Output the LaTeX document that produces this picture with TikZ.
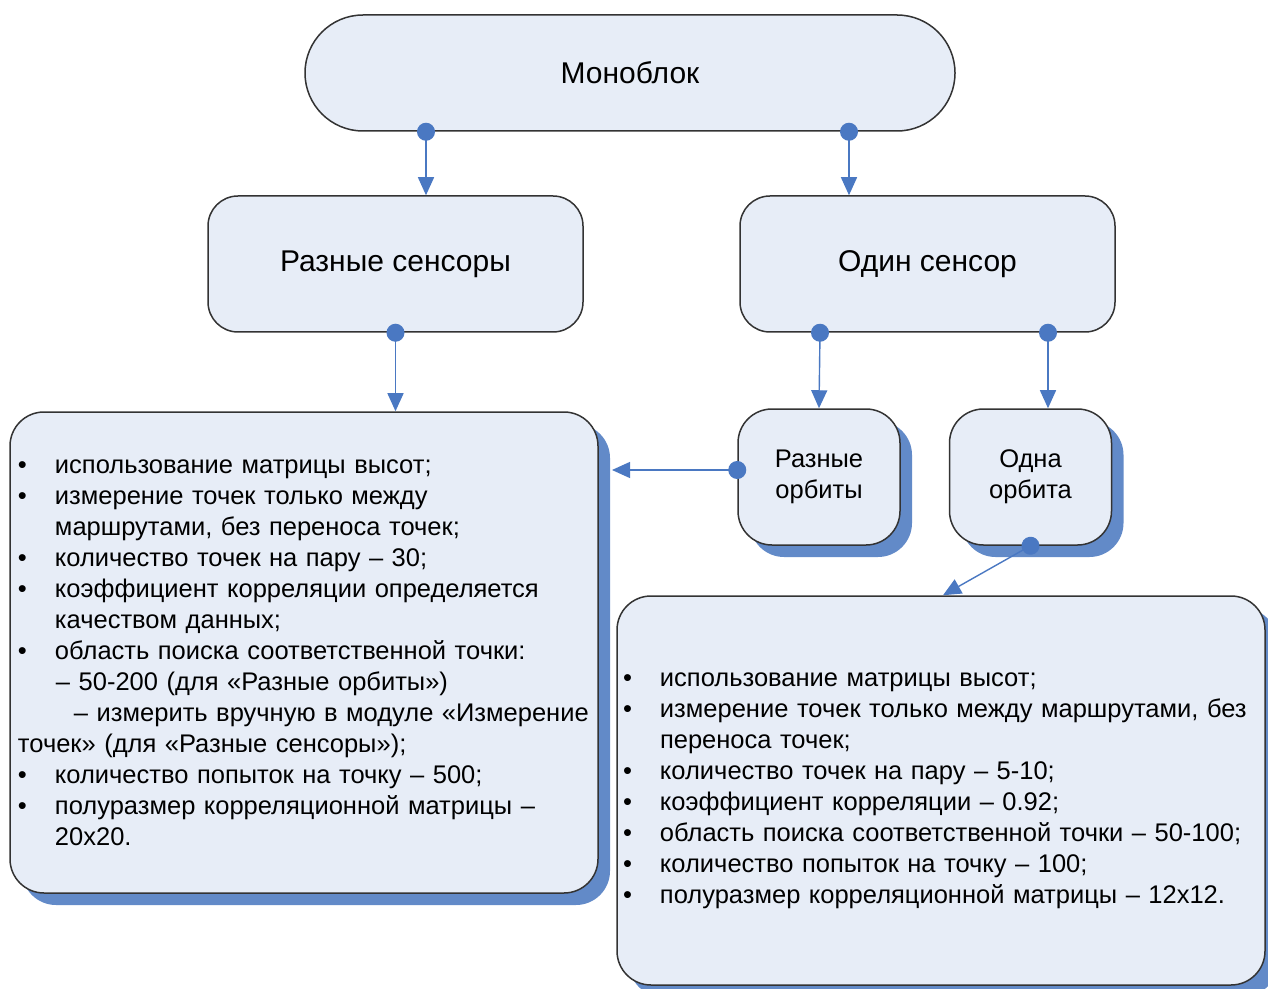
\documentclass[tikz,border=0pt]{standalone}
\usepackage{fontspec}
\setmainfont{Liberation Sans}
\usetikzlibrary{arrows.meta,calc,shadows}
\definecolor{boxfill}{HTML}{E7EDF7}
\definecolor{edge}{HTML}{333333}
\definecolor{linkblue}{HTML}{4A78C2}
\definecolor{shade}{HTML}{628AC8}
\newcommand\bul{\makebox[18.5pt][l]{\textbullet}}
\newcommand\indt{\hspace*{18.5pt}}

\tikzset{
  block/.style={draw=edge,line width=.75pt,fill=boxfill,rounded corners=15pt,
    align=center,font=\fontsize{15}{18}\selectfont},
  body/.style={font=\fontsize{12.75}{15.5}\selectfont},
  shadowed/.style={drop shadow={shadow xshift=6pt,shadow yshift=-6pt,fill=shade,opacity=1}},
  link/.style={linkblue,line width=.7pt,
    {Circle[length=9pt]}-{Triangle[length=9pt,width=8pt]},shorten <=-4.5pt},
}

\begin{document}
\begin{tikzpicture}[x=.5pt,y=-.5pt]
  \useasboundingbox (0,0) rectangle (1268,989);

  % top of the tree
  \node[block,rounded corners=29pt,minimum width=325pt,minimum height=58pt] (mono) at (630,73) {Моноблок};
  \node[block,minimum width=187.5pt,minimum height=68pt] (sens1) at (395.5,264) {Разные сенсоры};
  \node[block,minimum width=187.5pt,minimum height=68pt] (sens2) at (927.5,264) {Один сенсор};

  % orbit variants
  \node[block,body,shadowed,rounded corners=17pt,minimum width=81pt,minimum height=68pt] (orb1) at (819,477) {Разные\\орбиты};
  \node[block,body,shadowed,rounded corners=17pt,minimum width=81pt,minimum height=68pt] (orb2) at (1030.5,477) {Одна\\орбита};

  % parameter lists
  \node[block,body,shadowed,rounded corners=17pt,align=left,text width=286pt,inner xsep=4pt,
    minimum height=240.5pt] (lbox) at (304,652.5) {%
    \bul использование матрицы высот;\\
    \bul измерение точек только между\\
    \indt маршрутами, без переноса точек;\\
    \bul количество точек на пару – 30;\\
    \bul коэффициент корреляции определяется\\
    \indt качеством данных;\\
    \bul область поиска соответственной точки:\\
    \hspace*{19pt}– 50-200 (для «Разные орбиты»)\\
    \hspace*{28pt}– измерить вручную в модуле «Измерение\\
    точек» (для «Разные сенсоры»);\\
    \bul количество попыток на точку – 500;\\
    \bul полуразмер корреляционной матрицы –\\
    \indt 20x20.};
  \node[block,body,shadowed,rounded corners=17pt,align=left,text width=318pt,inner xsep=3pt,
    minimum height=194.5pt] (rbox) at (941,790.5) {%
    \bul использование матрицы высот;\\
    \bul измерение точек только между маршрутами, без\\
    \indt переноса точек;\\
    \bul количество точек на пару – 5-10;\\
    \bul коэффициент корреляции – 0.92;\\
    \bul область поиска соответственной точки – 50-100;\\
    \bul количество попыток на точку – 100;\\
    \bul полуразмер корреляционной матрицы – 12x12.};

  % connectors
  \coordinate (ltip) at (612,470);
  \draw[link] ($(mono.south)+(-204,0)$) -- ($(sens1.north)+(30.5,0)$);
  \draw[link] ($(mono.south)+(219,0)$) -- ($(sens2.north)+(-78.5,0)$);
  \draw[link] (sens1.south) -- (sens1.south |- lbox.north);
  \draw[link] ($(sens2.south)+(-107.5,0)$) -- (orb1.north);
  \draw[link] ($(sens2.south)+(120.5,0)$) -- ($(orb2.north)+(17.5,0)$);
  \draw[link] ($(orb1.west)+(0,-7)$) -- (ltip);
  \draw[link] (orb2.south) -- ($(rbox.north)+(2,0)$);
\end{tikzpicture}
\end{document}
